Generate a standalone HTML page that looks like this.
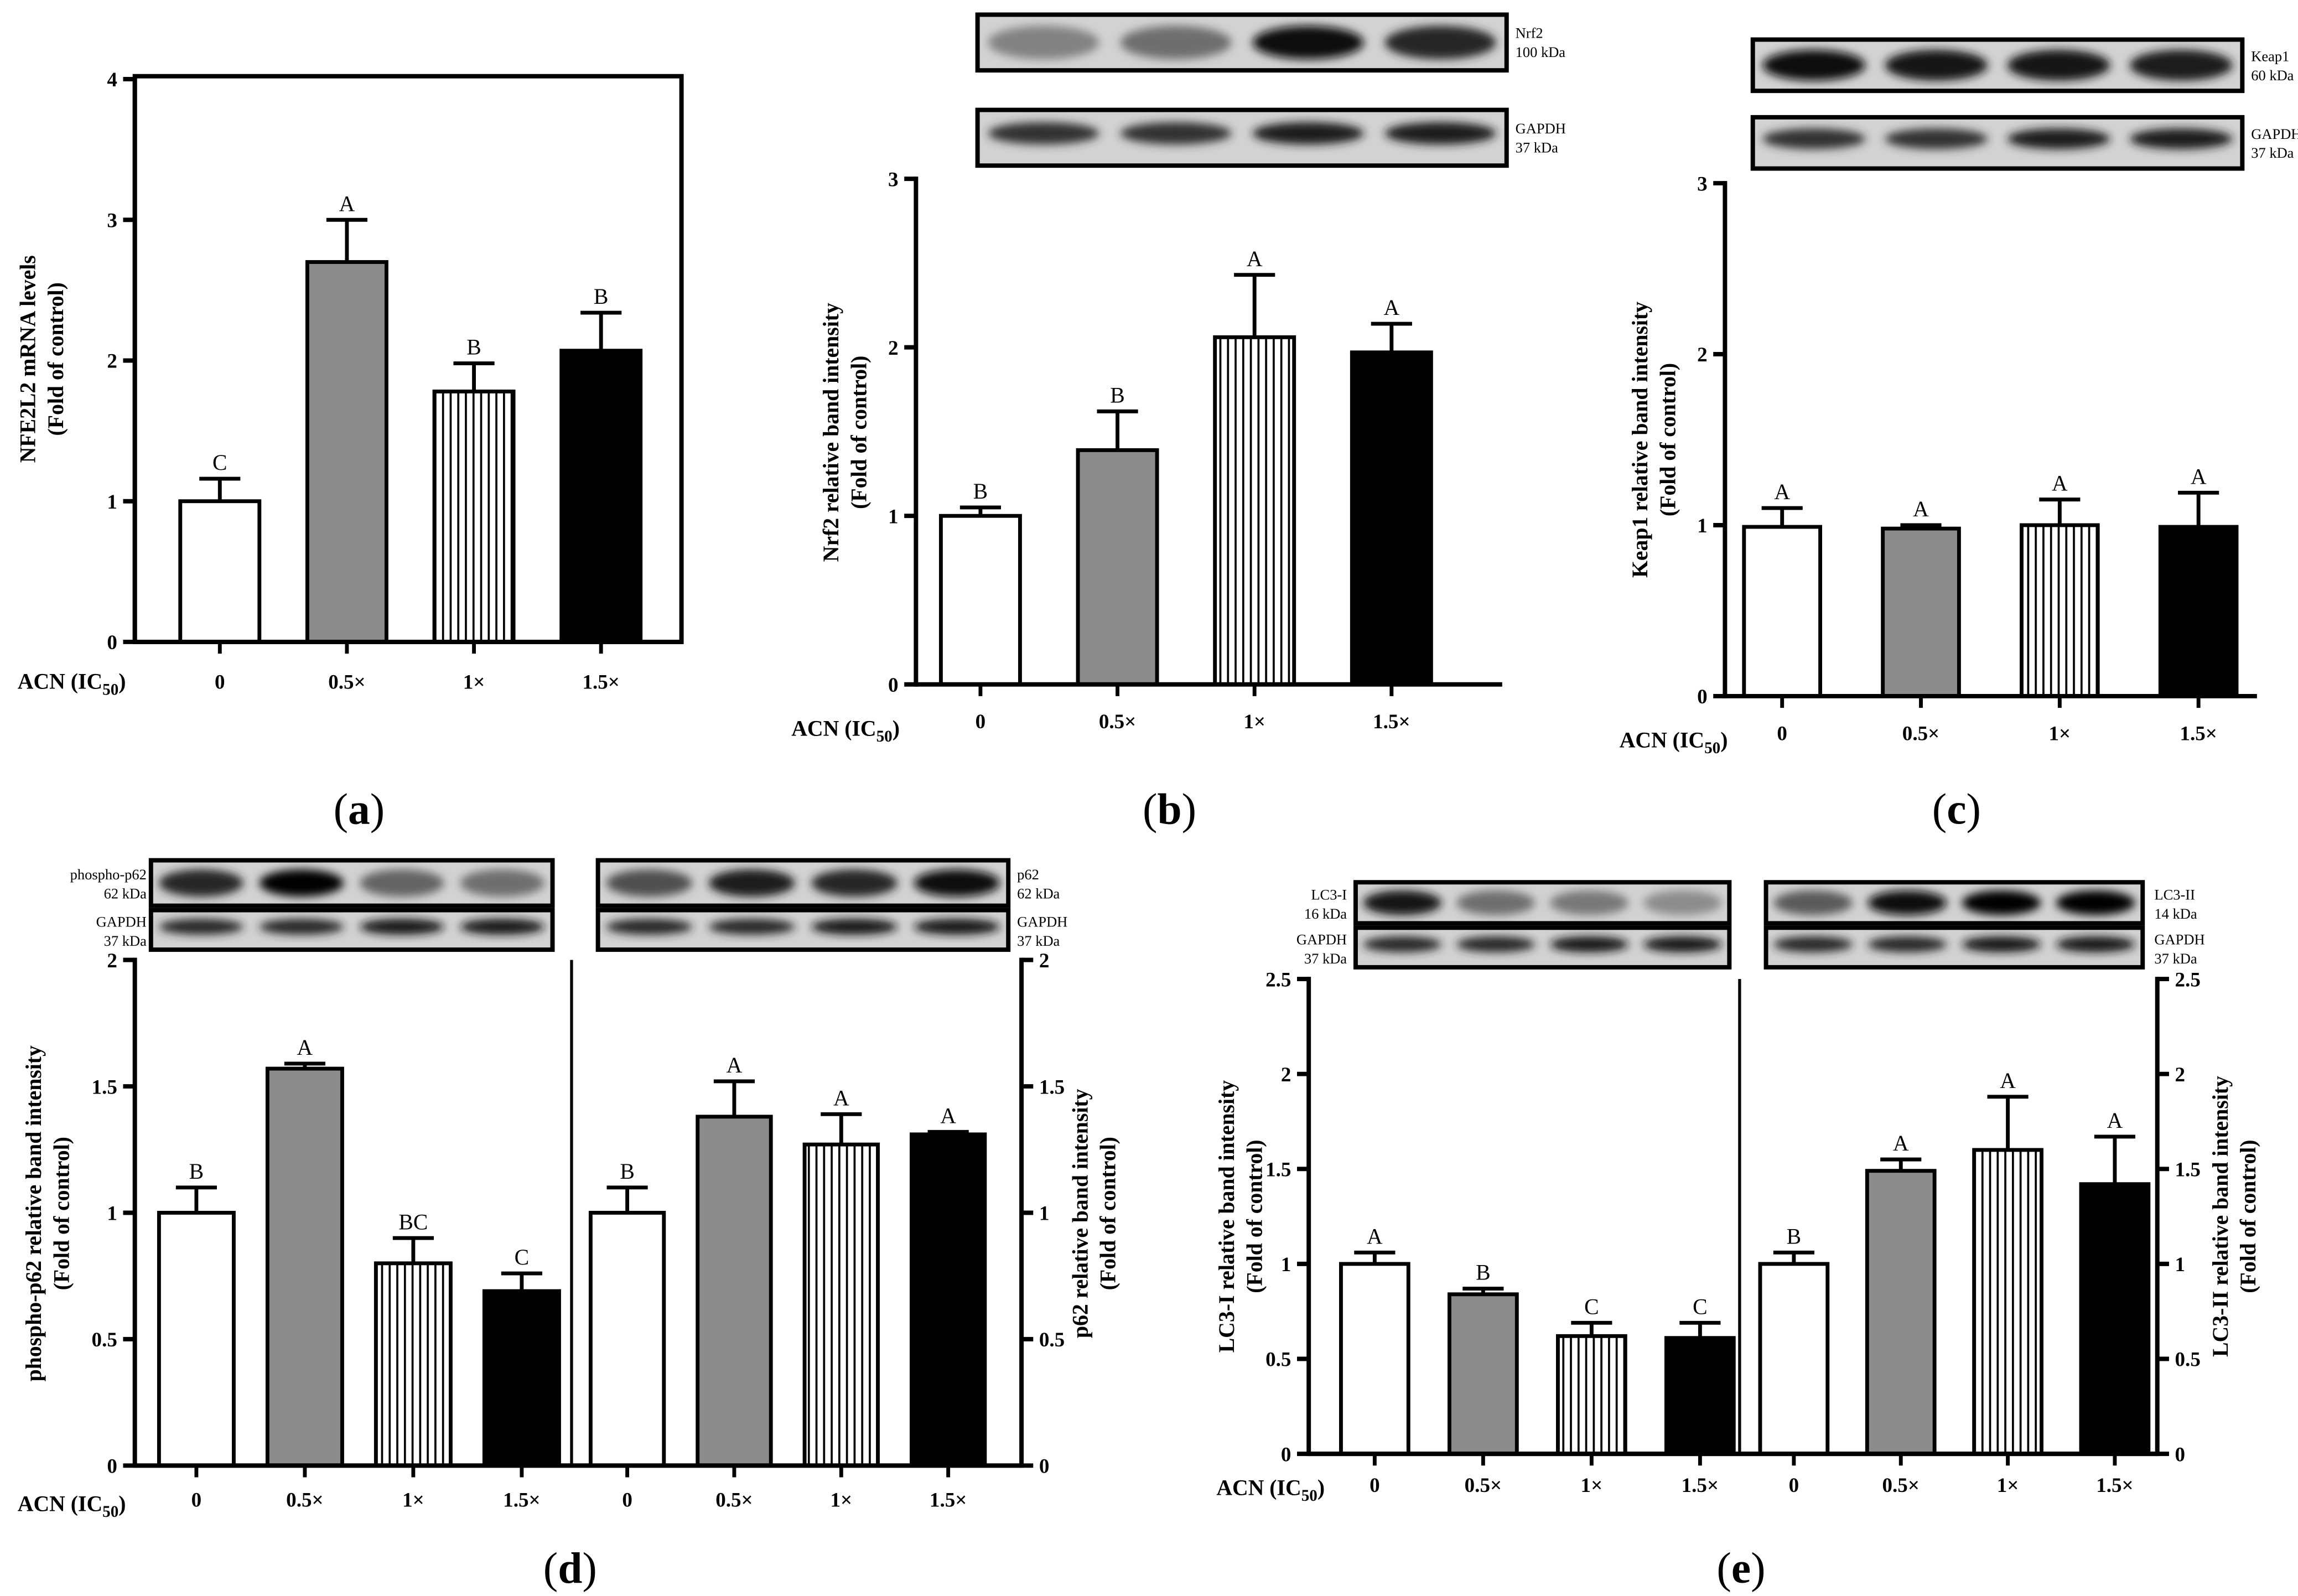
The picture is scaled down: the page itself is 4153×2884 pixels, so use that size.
<!DOCTYPE html>
<html><head><meta charset="utf-8">
<style>
html,body{margin:0;padding:0;background:#fff;}
svg{display:block;}
text{font-family:"Liberation Serif","DejaVu Serif",serif;}
</style></head>
<body>
<svg id="fig" width="4153" height="2884" viewBox="0 0 1568 1089" preserveAspectRatio="none" xmlns="http://www.w3.org/2000/svg">
<defs>
<pattern id="stripes" patternUnits="userSpaceOnUse" width="5.2" height="10"><rect width="5.2" height="10" fill="#fff"/><rect x="0" width="1.4" height="10" fill="#000"/></pattern>
<filter id="blur" x="-20%" y="-50%" width="140%" height="200%"><feGaussianBlur stdDeviation="3"/></filter>
</defs>
<g id="root"></g>
</svg>
<script>
// ---------- data ----------
const cats = ['0','0.5×','1×','1.5×'];
const aVals = [1.0, 2.70, 1.78, 2.07];
const aErr  = [0.16, 0.30, 0.20, 0.27];
const aLet  = ['C','A','B','B'];
const aTicks = [0,1,2,3,4];

const bVals = [1.0, 1.39, 2.06, 1.97];
const bErr  = [0.05, 0.23, 0.37, 0.17];
const bLet  = ['B','B','A','A'];
const bTicks = [0,1,2,3];

const cVals = [0.99, 0.98, 1.0, 0.99];
const cErr  = [0.11, 0.02, 0.15, 0.20];
const cLet  = ['A','A','A','A'];
const cTicks = [0,1,2,3];

const dLVals = [1.0, 1.57, 0.80, 0.69];
const dLErr  = [0.10, 0.02, 0.10, 0.07];
const dLLet  = ['B','A','BC','C'];
const dRVals = [1.0, 1.38, 1.27, 1.31];
const dRErr  = [0.10, 0.14, 0.12, 0.01];
const dRLet  = ['B','A','A','A'];
const dTicks = [0,0.5,1,1.5,2];

const eLVals = [1.0, 0.84, 0.62, 0.61];
const eLErr  = [0.06, 0.03, 0.07, 0.08];
const eLLet  = ['A','B','C','C'];
const eRVals = [1.0, 1.49, 1.60, 1.42];
const eRErr  = [0.06, 0.06, 0.28, 0.25];
const eRLet  = ['B','A','A','A'];
const eTicks = [0,0.5,1,1.5,2,2.5];

// blot band intensities (0..1)
const nrf2Bands = [0.35,0.45,0.95,0.8];
const gapdhB    = [0.75,0.75,0.85,0.85];
const keapBands = [0.95,0.9,0.9,0.85];
const gapdhC    = [0.75,0.75,0.85,0.85];
const pp62Bands = [0.8,1.0,0.5,0.45];
const p62Bands  = [0.6,0.85,0.8,0.95];
const lc3iBands = [0.9,0.45,0.4,0.3];
const lc3iiBands= [0.55,0.95,1.0,1.0];
const gapdhDE   = [0.8,0.8,0.9,0.9];

// ---------- drawing ----------
const NS='http://www.w3.org/2000/svg';
const root=document.getElementById('root');
function el(tag,attrs,parent,txt){const e=document.createElementNS(NS,tag);for(const k in attrs)e.setAttribute(k,attrs[k]);if(txt!==undefined)e.textContent=txt;(parent||root).appendChild(e);return e;}
const fills=['#fff','#8c8c8c','url(#stripes)','#000'];

function scale(v0y,topY,maxV){return v=>v0y-(v0y-topY)*v/maxV;}

function bars(g,y,centers,w,vals,errs,lets,tag){
  vals.forEach((v,i)=>{
    const cx=centers[i];
    const r=el('rect',{x:cx-w/2,y:y(v),width:w,height:y(0)-y(v),fill:fills[i],stroke:'#000','stroke-width':2.6},g);
    
    
    const top=y(v+errs[i]);
    const e=el('path',{d:`M${cx},${y(v)} V${top} M${cx-14},${top} H${cx+14}`,stroke:'#000','stroke-width':2.6,fill:'none'},g);
    
    
    const t=el('text',{x:cx,y:top-6,'text-anchor':'middle','font-size':15},g,lets[i]);
    
    
  });
}
function yAxis(g,x,y,ticks,side,tag){
  const ys=ticks.map(y);
  el('line',{x1:x,x2:x,y1:Math.min(...ys)-1.5,y2:y(0)+1.5,stroke:'#000','stroke-width':3},g);
  ticks.forEach(t=>{
    const d=side==='left'?-8:8;
    el('line',{x1:x,x2:x+d,y1:y(t),y2:y(t),stroke:'#000','stroke-width':3},g);
    const lb=el('text',{x:x+(side==='left'?-12:12),y:y(t)+5,'text-anchor':side==='left'?'end':'start','font-size':14,'font-weight':'bold'},g,String(t));
    
    
  });
}
function xAxis(g,x1,x2,y0,centers,labY,tag){
  el('line',{x1:x1,x2:x2,y1:y0,y2:y0,stroke:'#000','stroke-width':3},g);
  centers.forEach((c,i)=>{
    el('line',{x1:c,x2:c,y1:y0,y2:y0+8,stroke:'#000','stroke-width':2.6},g);
    const t=el('text',{x:c,y:labY,'text-anchor':'middle','font-size':14,'font-weight':'bold'},g,cats[i]);
    
    
  });
}
function acn(g,x,y){
  const t=el('text',{x:x,y:y,'font-size':15,'font-weight':'bold'},g);
  
  
  t.appendChild(document.createTextNode('ACN (IC'));
  el('tspan',{'font-size':11,dy:4},t,'50');
  el('tspan',{dy:-4},t,')');
}
function yTitle(g,x,y,l1,l2,tag){
  const t=el('text',{transform:`translate(${x},${y}) rotate(-90)`,'text-anchor':'middle','font-size':15,'font-weight':'bold'},g);
  
  
  el('tspan',{x:0,y:0},t,l1);
  el('tspan',{x:0,y:19},t,l2);
}
function panelLabel(x,y,s){
  const t=el('text',{x:x,y:y,'text-anchor':'middle','font-size':30},root);
  
  
  t.appendChild(document.createTextNode('('));
  el('tspan',{'font-weight':'bold'},t,s);
  t.appendChild(document.createTextNode(')'));
}
function blot(x,y,w,h,ints,thin,lab1,lab2,labX,anchor,tag){
  const g=el('g',{});
  
  
  el('rect',{x:x,y:y,width:w,height:h,fill:'#d2d2d2'},g);
  const lw=w/4;
  ints.forEach((v,i)=>{
    const c=Math.round(200-200*v);
    el('ellipse',{cx:x+lw*(i+0.5),cy:y+h*(thin?0.42:0.5),rx:lw*0.42,ry:h*(thin?0.2:0.3),fill:`rgb(${c},${c},${c})`,filter:'url(#blur)'},g);
  });
  el('rect',{x:x,y:y,width:w,height:h,fill:'none',stroke:'#000','stroke-width':3},g);
  if(lab1){
    el('text',{x:labX,y:y+h*0.42,'font-size':10,'text-anchor':anchor},g,lab1);
    el('text',{x:labX,y:y+h*0.42+13,'font-size':10,'text-anchor':anchor},g,lab2);
  }
}

// ---- Panel a ----
(function(){
  const g=el('g',{});
  const y=scale(438,54,4);
  el('rect',{x:92,y:52,width:373,height:386,fill:'none',stroke:'#000','stroke-width':3},g);
  const centers=[0,1,2,3].map(i=>150+i*86.7);
  bars(g,y,centers,54,aVals,aErr,aLet,'a');
  yAxis(g,92,y,aTicks,'left','a');
  xAxis(g,92,465,438,centers,470,'a');
  acn(g,12,470);
  yTitle(g,24,245,'NFE2L2 mRNA levels','(Fold of control)','a');
  panelLabel(245,562,'a');
})();

// ---- Panel b ----
(function(){
  blot(667,10,361,38,nrf2Bands,false,'Nrf2','100 kDa',1034,'start','nrf2-blot');
  blot(667,75,361,38,gapdhB,true,'GAPDH','37 kDa',1034,'start','gapdh-blot-b');
  const g=el('g',{});
  const y=scale(467,122,3);
  const centers=[0,1,2,3].map(i=>669+i*93.5);
  bars(g,y,centers,54,bVals,bErr,bLet,'b');
  yAxis(g,625,y,bTicks,'left','b');
  xAxis(g,625,1025,467,centers,497,'b');
  acn(g,540,502);
  yTitle(g,572,295,'Nrf2 relative band intensity','(Fold of control)','b');
  panelLabel(798,562,'b');
})();

// ---- Panel c ----
(function(){
  blot(1196,27,334,35,keapBands,false,'Keap1','60 kDa',1536,'start','keap1-blot');
  blot(1196,80,334,35,gapdhC,true,'GAPDH','37 kDa',1536,'start','gapdh-blot-c');
  const g=el('g',{});
  const y=scale(475,125,3);
  const centers=[0,1,2,3].map(i=>1216+i*94.7);
  bars(g,y,centers,52,cVals,cErr,cLet,'c');
  yAxis(g,1177,y,cTicks,'left','c');
  xAxis(g,1177,1540,475,centers,505,'c');
  acn(g,1105,510);
  yTitle(g,1124,300,'Keap1 relative band intensity','(Fold of control)','c');
  panelLabel(1335,562,'c');
})();

// ---- Panel d ----
(function(){
  blot(103,587,274,31,pp62Bands,false,'phospho-p62','62 kDa',100,'end','phospho-p62-blot');
  blot(103,621,274,27,gapdhDE,true,'GAPDH','37 kDa',100,'end','gapdh-blot-d-left');
  blot(408,587,280,31,p62Bands,false,'p62','62 kDa',694,'start','p62-blot');
  blot(408,621,280,27,gapdhDE,true,'GAPDH','37 kDa',694,'start','gapdh-blot-d-right');
  const g=el('g',{});
  const y=scale(1000,655,2);
  const cL=[0,1,2,3].map(i=>134+i*74);
  const cR=[0,1,2,3].map(i=>428+i*73);
  bars(g,y,cL,51,dLVals,dLErr,dLLet,'d-left');
  bars(g,y,cR,50,dRVals,dRErr,dRLet,'d-right');
  el('line',{x1:390,x2:390,y1:655,y2:1000,stroke:'#000','stroke-width':2},g);
  yAxis(g,92,y,dTicks,'left','d-left');
  yAxis(g,697,y,dTicks,'right','d-right');
  xAxis(g,92,697,1000,cL,1028,'d-left');
  xAxis(g,92,697,1000,cR,1028,'d-right');
  acn(g,12,1031);
  yTitle(g,28,828,'phospho-p62 relative band intensity','(Fold of control)','d-left');
  yTitle(g,742,828,'p62 relative band intensity','(Fold of control)','d-right');
  panelLabel(389,1080,'d');
})();

// ---- Panel e ----
(function(){
  blot(925,602,255,28,lc3iBands,false,'LC3-I','16 kDa',919,'end','lc3-i-blot');
  blot(925,633,255,27,gapdhDE,true,'GAPDH','37 kDa',919,'end','gapdh-blot-e-left');
  blot(1205,602,257,28,lc3iiBands,false,'LC3-II','14 kDa',1470,'start','lc3-ii-blot');
  blot(1205,633,257,27,gapdhDE,true,'GAPDH','37 kDa',1470,'start','gapdh-blot-e-right');
  const g=el('g',{});
  const y=scale(992,668,2.5);
  const cL=[0,1,2,3].map(i=>938+i*74);
  const cR=[0,1,2,3].map(i=>1224+i*73);
  bars(g,y,cL,46,eLVals,eLErr,eLLet,'e-left');
  bars(g,y,cR,46,eRVals,eRErr,eRLet,'e-right');
  el('line',{x1:1187,x2:1187,y1:668,y2:992,stroke:'#000','stroke-width':2},g);
  yAxis(g,893,y,eTicks,'left','e-left');
  yAxis(g,1472,y,eTicks,'right','e-right');
  xAxis(g,893,1472,992,cL,1018,'e-left');
  xAxis(g,893,1472,992,cR,1018,'e-right');
  acn(g,830,1020);
  yTitle(g,842,830,'LC3-I relative band intensity','(Fold of control)','e-left');
  yTitle(g,1520,830,'LC3-II relative band intensity','(Fold of control)','e-right');
  panelLabel(1188,1080,'e');
})();
</script>
</body></html>
